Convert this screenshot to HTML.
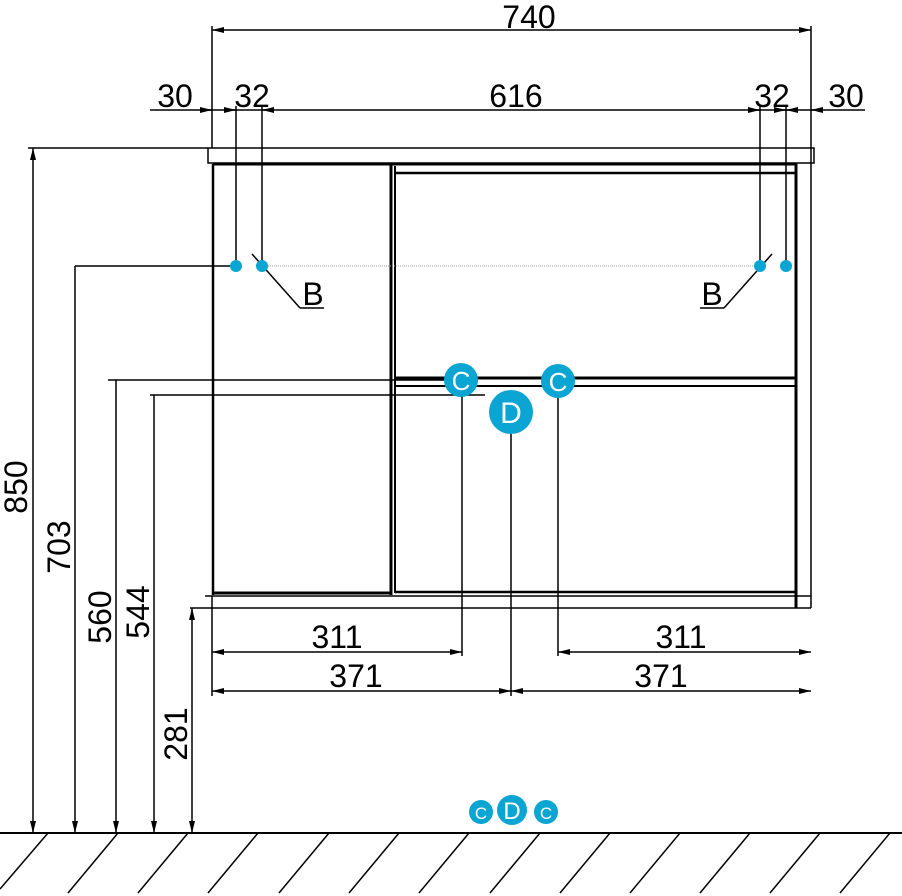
<!DOCTYPE html>
<html><head><meta charset="utf-8"><style>body{margin:0;background:#fff}svg{display:block}text{font-family:"Liberation Sans",sans-serif;font-size:32px;fill:#000}</style></head><body>
<svg width="902" height="896" viewBox="0 0 902 896" xmlns="http://www.w3.org/2000/svg">
<defs>
<marker id="a" viewBox="0 0 12 6" refX="12" refY="3" markerWidth="12" markerHeight="6" markerUnits="userSpaceOnUse" orient="auto-start-reverse"><path d="M0,0L12,3L0,6z" fill="#000"/></marker>
</defs>
<g stroke="#000" stroke-width="1.5" fill="none">
<line x1="212" y1="26" x2="212" y2="148"/><line x1="811" y1="26" x2="811" y2="148"/>
<line x1="212" y1="30" x2="811" y2="30" marker-start="url(#a)" marker-end="url(#a)"/>
<line x1="150" y1="110" x2="865" y2="110"/>
<line x1="200" y1="110" x2="212" y2="110" marker-end="url(#a)"/>
<line x1="224" y1="110" x2="236" y2="110" marker-end="url(#a)"/>
<line x1="274" y1="110" x2="262" y2="110" marker-end="url(#a)"/>
<line x1="748" y1="110" x2="760" y2="110" marker-end="url(#a)"/>
<line x1="774" y1="110" x2="786" y2="110" marker-end="url(#a)"/>
<line x1="798" y1="110" x2="786" y2="110" marker-end="url(#a)"/>
<line x1="823" y1="110" x2="811" y2="110" marker-end="url(#a)"/>
<line x1="236" y1="106" x2="236" y2="266"/><line x1="262" y1="106" x2="262" y2="266"/>
<line x1="760" y1="106" x2="760" y2="266"/><line x1="786" y1="106" x2="786" y2="266"/>
<line x1="811" y1="148" x2="811" y2="608"/>
<rect x="208" y="148" width="606" height="15"/>
<line x1="213" y1="164" x2="797" y2="164" stroke-width="3"/>
<line x1="213" y1="164" x2="213" y2="595" stroke-width="2.5"/>
<line x1="391" y1="164" x2="391" y2="595" stroke-width="3"/>
<line x1="395" y1="166" x2="395" y2="593" stroke-width="2"/>
<line x1="796" y1="164" x2="796" y2="608" stroke-width="3"/>
<line x1="395" y1="173" x2="796" y2="173" stroke-width="2.5"/>
<line x1="395" y1="378" x2="796" y2="378" stroke-width="3"/>
<line x1="395" y1="386" x2="796" y2="386" stroke-width="2"/>
<line x1="213" y1="593" x2="391" y2="593" stroke-width="3"/>
<line x1="395" y1="592" x2="796" y2="592" stroke-width="2.5"/>
<line x1="205" y1="596" x2="811" y2="596"/>
<line x1="190" y1="608" x2="811" y2="608"/>
<line x1="108" y1="380" x2="445" y2="380"/>
<line x1="150" y1="395" x2="485" y2="395"/>
<line x1="75" y1="266" x2="236" y2="266"/>
<line x1="28" y1="148" x2="208" y2="148"/>
<line x1="0" y1="833" x2="902" y2="833" stroke-width="2"/>
<line x1="33" y1="148" x2="33" y2="833" marker-start="url(#a)" marker-end="url(#a)"/>
<line x1="75" y1="266" x2="75" y2="833" marker-end="url(#a)"/>
<line x1="116" y1="380" x2="116" y2="833" marker-end="url(#a)"/>
<line x1="154" y1="395" x2="154" y2="833" marker-end="url(#a)"/>
<line x1="192" y1="608" x2="192" y2="833" marker-start="url(#a)" marker-end="url(#a)"/>
<line x1="212" y1="596" x2="212" y2="696"/>
<line x1="462" y1="395" x2="462" y2="656"/>
<line x1="511" y1="430" x2="511" y2="696"/>
<line x1="558" y1="395" x2="558" y2="656"/>
<line x1="212" y1="652" x2="462" y2="652" marker-start="url(#a)" marker-end="url(#a)"/>
<line x1="558" y1="652" x2="811" y2="652" marker-start="url(#a)" marker-end="url(#a)"/>
<line x1="212" y1="691" x2="511" y2="691" marker-start="url(#a)" marker-end="url(#a)"/>
<line x1="511" y1="691" x2="811" y2="691" marker-start="url(#a)" marker-end="url(#a)"/>
<line x1="252" y1="254" x2="300" y2="308"/><line x1="300" y1="308" x2="324" y2="308"/>
<line x1="772" y1="254" x2="724" y2="308"/><line x1="724" y1="308" x2="700" y2="308"/>
<path d="M48,833L0,889M118,833L68,893M188,833L138,893M258,833L208,893M329,833L279,893M399,833L349,893M469,833L419,893M540,833L490,893M610,833L560,893M680,833L630,893M750,833L700,893M820,833L770,893M890,833L840,893"/>
</g>
<line x1="262" y1="266" x2="760" y2="266" stroke="#999" stroke-width="1" stroke-dasharray="1,1"/>
<g fill="#0aa5d2">
<circle cx="236" cy="266" r="6"/><circle cx="262" cy="266" r="6"/><circle cx="760" cy="266" r="6"/><circle cx="786" cy="266" r="6"/>
<circle cx="461" cy="380" r="17"/><circle cx="558" cy="381" r="17"/><circle cx="511" cy="412" r="22"/>
<circle cx="481" cy="812" r="12"/><circle cx="512" cy="810" r="15"/><circle cx="546" cy="812" r="12"/>
</g>
<g text-anchor="middle">
<text x="461" y="390" style="fill:#fff;font-size:26px">C</text>
<text x="558" y="391" style="fill:#fff;font-size:26px">C</text>
<text x="511" y="423" style="fill:#fff;font-size:30px">D</text>
<text x="481" y="819" style="fill:#fff;font-size:17px">C</text>
<text x="512" y="819" style="fill:#fff;font-size:24px">D</text>
<text x="546" y="819" style="fill:#fff;font-size:17px">C</text>
</g>
<g text-anchor="middle">
<text x="529" y="28">740</text>
<text x="175" y="107">30</text><text x="252" y="107">32</text><text x="516" y="107">616</text>
<text x="772" y="107">32</text><text x="846" y="107">30</text>
<text x="313" y="305">B</text><text x="712" y="305">B</text>
<text x="337" y="648">311</text><text x="681" y="648">311</text>
<text x="356" y="687">371</text><text x="661" y="687">371</text>
<text transform="translate(27,487) rotate(-90)">850</text>
<text transform="translate(70,547) rotate(-90)">703</text>
<text transform="translate(111,617) rotate(-90)">560</text>
<text transform="translate(149,612) rotate(-90)">544</text>
<text transform="translate(187,734) rotate(-90)">281</text>
</g>
</svg>
</body></html>
